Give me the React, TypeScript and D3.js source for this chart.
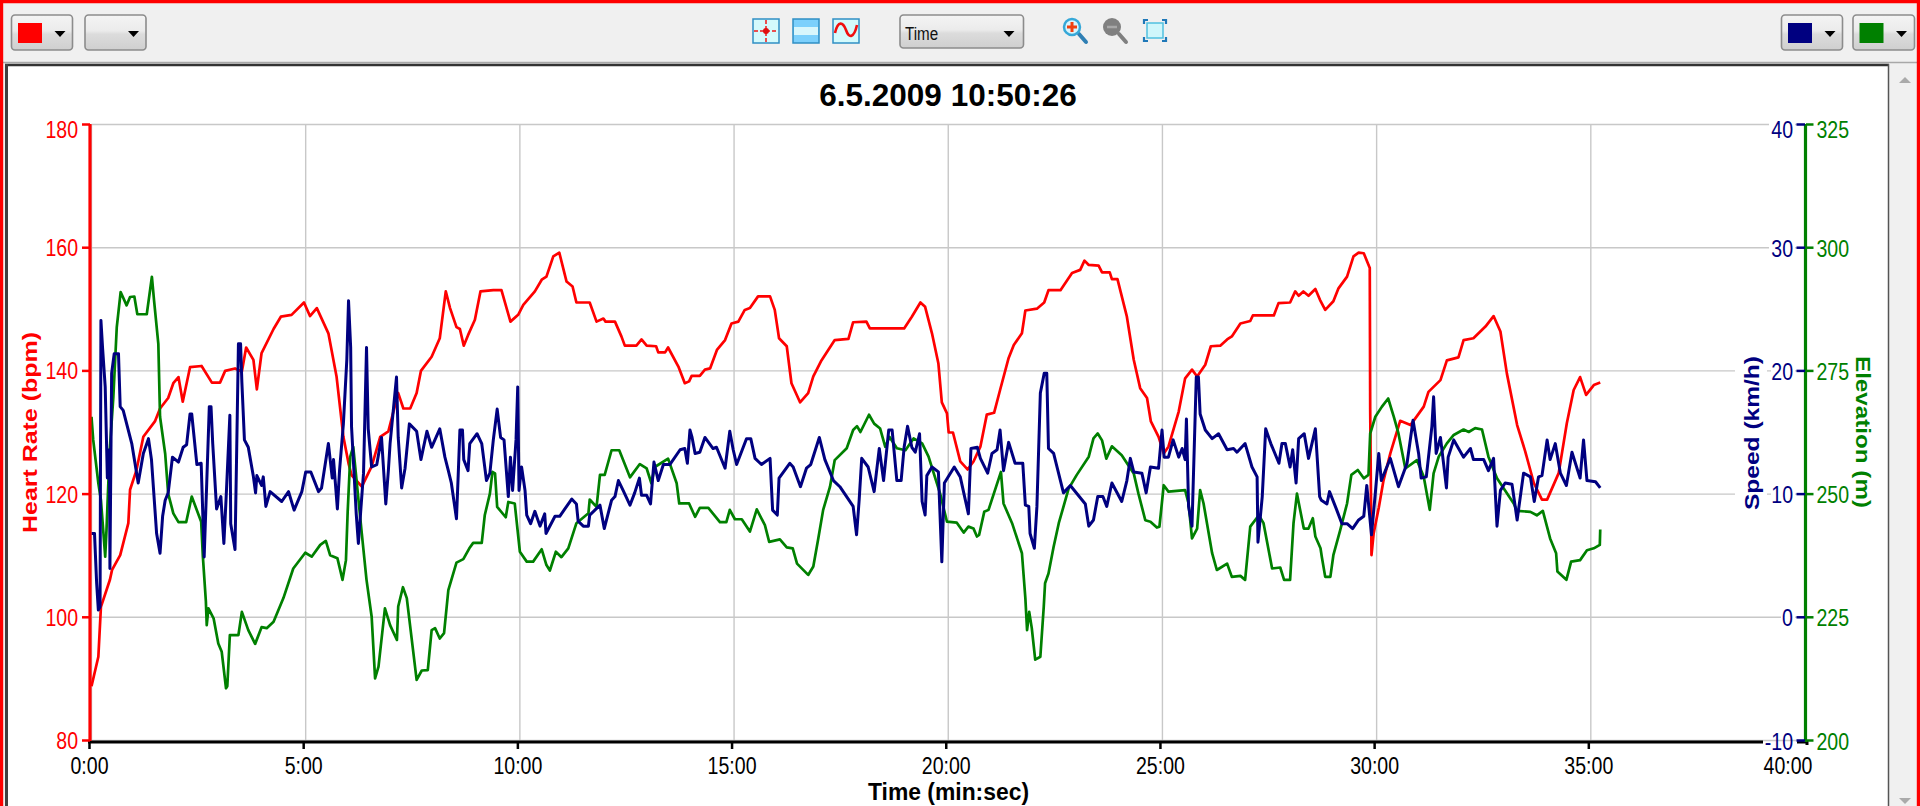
import React from "react";
import * as d3 from "d3";

const xTickMinutes = [0, 5, 10, 15, 20, 25, 30, 35, 40];
const hrTicks = [80, 100, 120, 140, 160, 180];
const speedTicks = [-10, 0, 10, 20, 30, 40];
const elevationTicks = [200, 225, 250, 275, 300, 325];

const hrTime = [0,.16,.22,.43,.48,.67,.86,.9,1.05,1.21,1.48,1.6,1.79,1.91,2.03,2.13,2.3,2.57,2.81,3,3.12,3.35,3.51,3.61,3.78,3.86,3.97,4.25,4.42,4.67,4.96,5.1,5.26,5.53,5.72,5.88,6,6.07,6.31,6.54,6.74,6.93,7.16,7.28,7.44,7.59,7.69,7.94,8.13,8.27,8.37,8.52,8.6,8.69,8.79,8.95,9.08,9.38,9.57,9.78,9.96,10.08,10.35,10.51,10.62,10.78,10.92,11.09,11.23,11.32,11.63,11.79,11.95,12,12.22,12.37,12.45,12.72,12.84,12.96,13.18,13.23,13.39,13.46,13.7,13.85,13.95,14.01,14.2,14.32,14.44,14.6,14.79,14.94,15.1,15.25,15.37,15.56,15.84,15.95,16.05,16.23,16.34,16.54,16.73,16.85,17.04,17.35,17.67,17.78,18.09,18.17,18.41,18.97,19.15,19.35,19.46,19.62,19.77,19.85,19.97,20.01,20.11,20.28,20.45,20.59,20.75,20.9,21.07,21.21,21.41,21.53,21.72,21.8,22.07,22.24,22.34,22.62,22.89,23.08,23.18,23.28,23.51,23.59,23.77,23.82,23.95,24.17,24.33,24.48,24.64,24.73,24.91,25.03,25.14,25.38,25.53,25.69,25.81,26,26.13,26.35,26.51,26.62,26.82,27.05,27.11,27.6,27.71,27.98,28.1,28.18,28.29,28.41,28.57,28.68,28.8,28.99,29.11,29.31,29.46,29.58,29.7,29.84,29.85,29.88,29.93,30.05,30.16,30.32,30.55,30.79,31.1,31.21,31.49,31.64,31.91,32.03,32.26,32.54,32.73,32.89,33.04,33.28,33.47,33.67,33.86,33.98,34.25,34.44,34.6,34.75,34.89,35.07,35.22];
const heartRate = [88.8,93.6,101.7,106.1,107.7,110.1,115.3,120.7,123.9,129.3,131.8,133.9,135.6,138,139,135,140.6,140.8,138.1,138.1,140,140.4,139.9,143.8,141.8,137,142.9,146.8,148.8,149.1,151.1,148.9,150.2,146.1,139.1,129.3,125,123.1,121.2,124.5,129.3,130.2,136.4,133.9,133.9,136.4,140,142.3,145.3,152.9,150.2,147.1,146.8,144.1,145.8,148.3,152.9,153.1,153.1,148,149.1,150.7,152.9,154.8,155.3,158.6,159.2,154.5,153.7,151.1,151.1,148,148.5,148,148,145.6,144.1,144.1,145.1,144.1,144,143,143,143.8,140.7,138,138.3,139.2,139.2,140.2,140.4,143.4,145,147.7,148,149.9,150.2,152.1,152.1,149.9,145.3,144,138,134.9,136.4,139.1,141.7,145,145.2,147.9,148,146.9,146.9,146.9,148.8,151.1,150.4,146.1,141.2,134.9,133.1,130,130,125.3,124,125.3,127.7,132.9,133.2,136.9,142.1,144.2,146.1,149.8,150.1,151.1,153.1,153.1,155.9,156.4,157.9,157.2,157.1,156,156,154.9,154.9,148.8,141.8,137.2,135.6,131.8,129.3,126.6,127.7,133.4,138.8,140.2,139.1,141,144,144.1,145.1,145.6,147.7,148.1,149,149,151,151.1,152.9,152.2,152.9,152.2,153.3,151.5,149.9,151.3,153.4,155.3,158.6,159.2,159.1,156.7,133.7,110.1,113.6,117.8,122.2,126.6,131.9,131.2,134.2,136.6,138.5,141.7,142.2,145,145.3,147.2,148.9,146.4,139.6,131.2,126.9,121.8,119.1,119.1,123.4,131.5,136.9,139,136.1,137.7,138.1];

const speedTime = [0,.07,.12,.16,.2,.22,.26,.32,.37,.42,.43,.47,.53,.63,.67,.74,.94,1.09,1.21,1.33,1.4,1.52,1.6,1.66,1.72,1.79,1.89,2.03,2.14,2.22,2.3,2.34,2.46,2.56,2.63,2.69,2.75,2.79,2.83,2.92,3.02,3.09,3.14,3.23,3.25,3.35,3.39,3.43,3.48,3.51,3.57,3.66,3.78,3.83,3.86,3.97,4.01,4.07,4.17,4.44,4.6,4.73,4.91,5,5.12,5.3,5.37,5.53,5.62,5.65,5.74,5.79,5.88,5.96,6,6.05,6.07,6.18,6.23,6.28,6.35,6.42,6.46,6.54,6.66,6.77,6.87,6.93,6.97,7.12,7.16,7.24,7.32,7.42,7.59,7.69,7.83,7.94,8.13,8.25,8.33,8.4,8.52,8.56,8.6,8.66,8.69,8.79,8.83,9,9.11,9.22,9.3,9.38,9.47,9.55,9.63,9.73,9.78,9.83,9.91,9.95,9.98,10.04,10.12,10.16,10.25,10.35,10.47,10.58,10.61,10.82,10.93,11.21,11.32,11.36,11.48,11.6,11.63,11.87,11.97,12.14,12.22,12.3,12.41,12.57,12.68,12.79,12.84,12.96,13.05,13.13,13.23,13.35,13.5,13.74,13.85,13.91,13.97,14.02,14.09,14.2,14.32,14.51,14.59,14.79,14.9,14.98,15.06,15.29,15.39,15.49,15.64,15.84,15.9,16.01,16.05,16.3,16.38,16.55,16.69,16.79,16.99,17.12,17.32,17.47,17.78,17.86,17.92,17.98,18.13,18.27,18.39,18.49,18.61,18.69,18.8,18.9,18.97,19.05,19.15,19.23,19.33,19.39,19.46,19.5,19.62,19.77,19.85,19.91,20.14,20.28,20.47,20.53,20.68,20.75,20.92,21.02,21.14,21.21,21.29,21.41,21.56,21.74,21.8,21.88,21.91,22.01,22.07,22.15,22.24,22.3,22.34,22.46,22.69,22.85,23.2,23.28,23.39,23.49,23.61,23.7,23.82,24.05,24.17,24.25,24.33,24.52,24.62,24.72,24.91,24.99,25.04,25.14,25.25,25.38,25.46,25.53,25.56,25.61,25.69,25.79,25.84,25.88,26,26.16,26.31,26.51,26.66,26.74,26.93,27.09,27.21,27.23,27.33,27.41,27.53,27.72,27.79,27.87,27.98,28.04,28.12,28.18,28.31,28.41,28.57,28.67,28.71,28.84,28.9,29.07,29.19,29.31,29.44,29.58,29.7,29.77,29.88,29.97,30.05,30.11,30.32,30.51,30.71,30.85,30.98,31.04,31.16,31.29,31.33,31.39,31.49,31.63,31.67,31.8,32.03,32.19,32.26,32.5,32.61,32.73,32.81,32.89,33,33.16,33.28,33.43,33.59,33.68,33.78,33.86,33.98,34.05,34.17,34.29,34.43,34.56,34.75,34.83,34.91,35.11,35.22];
const speed = [6.81,6.81,2.76,.59,.86,24.1,21.8,18.7,11.3,13.6,3.97,19.8,21.4,21.4,17.1,16.8,14.1,10.9,13.3,14.5,12.8,6.8,5.2,8.2,9.5,10.1,13,12.6,13.8,14,16.5,16.5,12.4,12.5,4.9,10.9,17.1,17.1,14.1,8.8,9.8,6,9.5,16.4,7.6,5.5,13.7,22.2,22.2,19.1,14.4,13.8,11.4,10.1,11.5,10.7,11.4,9,10.2,9.4,10.2,8.7,10.2,11.8,11.8,10.2,10.5,14.1,11.3,12.8,8.8,11.9,15.7,20.9,25.7,21.9,15.5,8.4,6,8.4,11.7,21.9,15.3,12.2,12.4,14.6,9.2,11.9,14.1,19.5,14.6,10.5,12.1,15.7,15.1,12.8,15.1,13.8,15.3,13,11.9,10.9,8,11.5,15.2,15.2,12.8,11.9,14.1,14.9,14.1,11.1,11.7,14.4,16.9,14.6,14.4,9.8,13,10.3,14.4,18.7,10.3,12.2,10.3,8.3,7.6,8.6,7.4,8.4,6.8,8.2,8.2,9.6,9.2,7.8,7.4,7.4,8.3,9.1,7.2,9.5,9.8,11.1,10.3,9.1,10.1,11.3,9.9,9.9,9.2,12.6,11.1,12.4,12.4,13.6,13.7,12.5,15.2,14.6,13.3,13.4,14.6,13.7,13.8,12.1,15.1,13.6,12.4,14.5,14.5,12.9,12.4,12.9,8.7,8.3,11.3,12.5,12.2,10.6,12.1,12.4,14.6,12.8,11.1,10.6,9,6.7,9.5,12.9,12.2,10.2,13.7,11.1,15.2,15.2,11.1,11.1,13.8,15.5,13.8,13.4,14.9,9.4,8.3,11.5,12.2,11.8,4.5,10.9,12.2,11.4,8.4,13.7,13.8,12.9,11.7,13.3,13.6,15.2,11.9,14.2,12.5,12.5,9.1,9,6.8,5.6,9,18.2,19.8,19.8,13.7,13.3,10.1,10.7,9.2,7.4,7.9,9.8,9.8,9,10.9,9.4,11.1,12.9,11.8,11.7,10.1,12.2,12.1,15.2,13,13,14.4,13,13.7,12.8,16.1,9,7.4,19.5,19.5,16.5,15.2,14.5,14.9,13.6,13.7,13.4,14.1,12.2,11.4,6.1,9.8,15.3,14.1,12.5,14.1,14.1,12.2,13.6,10.9,14.5,14.9,12.9,15.3,9.8,9.5,9.2,10.2,8.7,7.6,7.6,7.2,7.9,8.2,10.7,6.7,10.1,13.3,11.1,12.9,10.6,12.5,16,13.3,11.3,11.4,15.5,17.9,13.3,14.6,10.5,13,14.4,13,13.7,12.8,12.8,11.9,12.9,7.4,10.3,10.9,10.8,7.9,11.7,11.4,9.4,11.4,11.5,14.4,12.8,14.1,11.7,10.7,13.4,11.3,14.4,11.1,11,10.5];

const elevationTime = [0,.04,.16,.22,.32,.35,.42,.51,.59,.68,.82,.9,1,1.07,1.29,1.41,1.46,1.56,1.6,1.72,1.79,1.91,2.03,2.21,2.34,2.56,2.6,2.67,2.69,2.73,2.85,2.96,3.04,3.14,3.17,3.23,3.43,3.51,3.66,3.82,3.97,4.09,4.25,4.48,4.71,4.99,5.14,5.34,5.47,5.57,5.74,5.86,5.94,5.98,6.04,6.11,6.31,6.42,6.54,6.62,6.7,6.85,6.97,7.13,7.16,7.27,7.36,7.59,7.71,7.85,7.94,8.02,8.13,8.23,8.33,8.52,8.68,8.82,8.91,9.11,9.18,9.3,9.36,9.42,9.47,9.67,9.73,9.88,10,10.16,10.31,10.51,10.62,10.7,10.84,10.97,11.13,11.32,11.6,11.63,11.79,11.87,11.98,12.14,12.32,12.57,12.8,12.96,13.07,13.15,13.46,13.66,13.72,13.95,14.09,14.2,14.4,14.67,14.82,14.9,15.02,15.18,15.37,15.53,15.72,15.82,16.07,16.23,16.37,16.47,16.73,16.85,16.96,17.08,17.24,17.35,17.63,17.78,17.87,17.95,18.15,18.27,18.41,18.53,18.63,18.8,19,19.19,19.39,19.54,19.81,19.97,20.2,20.36,20.47,20.59,20.67,20.72,20.84,20.94,21.23,21.29,21.49,21.72,21.8,21.84,21.89,21.95,22.03,22.15,22.23,22.26,22.34,22.46,22.58,22.81,23,23.28,23.39,23.49,23.59,23.69,23.82,24.05,24.33,24.44,24.6,24.72,24.87,24.93,25.03,25.14,25.53,25.61,25.69,25.81,25.88,25.96,26.16,26.27,26.51,26.62,26.82,26.93,27.05,27.25,27.36,27.56,27.75,27.84,27.98,28.06,28.14,28.3,28.41,28.51,28.57,28.69,28.72,28.8,28.92,28.99,29.15,29.31,29.41,29.56,29.7,29.81,29.85,29.97,30.12,30.27,30.4,30.51,30.67,30.94,31.1,31.24,31.33,31.45,31.64,31.8,32.03,32.15,32.3,32.46,32.61,32.81,33.2,33.28,33.59,33.74,33.88,34.05,34.19,34.22,34.43,34.54,34.75,34.91,35.07,35.21,35.22];
const elevation = [265.7,261,252.2,248.8,237.3,242.7,258.2,269.7,283.9,291,288.3,290,290.1,286.5,286.5,294.1,289.3,280.5,265.7,258.2,250.1,246.1,244.3,244.3,249.5,244.4,237.3,228.2,223.4,226.8,224.8,219.7,218,210.6,211,221.4,221.4,226.1,222.4,219.6,223,222.8,224.1,228.9,234.9,238.1,237.3,239.7,240.5,237.6,237,232.6,236.6,246.4,257.6,259.6,242,232.6,225.1,212.6,215,226.8,223.4,220.4,227.2,231.1,228.9,212.3,214.2,214.3,222.4,222.8,220.7,221.8,230.5,236.1,236.8,239,240.1,240.1,245.7,250.1,254.5,254.2,247.4,245.3,248.4,248.1,238.3,236.3,236.3,238.8,235.6,234.5,238.3,237.2,239,244.1,246.1,248.9,247.4,253.9,253.9,258.9,258.9,253.4,256.1,255.2,252.2,255.5,257.2,252.2,248.1,248.1,245.4,247.2,247.2,244.3,244.3,246.8,244.9,244.9,242.4,246.9,243.7,240.3,240.8,239.2,239,235.9,233.6,235.3,240.7,246.8,251.5,256.9,259.3,263,263.8,262.6,266.1,264.3,263.3,259.6,261.6,259.3,258.9,261.3,260.3,257.6,250.1,244.4,244.2,242.2,243.4,243,241.4,241.7,246.4,246.8,254.5,248.1,244.1,238,228.9,222.4,226.1,222.8,216.4,217,227.2,231.9,233.9,239.3,244.1,251.1,253.9,257.6,261.3,262.3,260.9,257.2,259.7,257.9,254.2,250.1,244.7,244.4,243.2,243.4,251.8,250.5,250.8,248.1,241,243,250.8,248.1,238,234.6,235.9,233.2,233.4,232.6,243.4,245.7,244.1,234.9,235.1,232.6,232.6,244.1,250.1,243,243,245.1,241.4,239,237.3,233.2,233.2,237.6,242.7,248.1,253.9,254.9,253.2,253.9,262.3,265.7,267.7,269.4,265.7,262.3,255.2,256.9,253.5,246.8,254.2,257.6,260.3,262,263.1,262.6,263.4,263.1,257.6,253.2,248.1,246.6,246.4,245.7,246.6,241,238,234.3,232.6,236.3,236.6,238.6,239,239.7,242.8];

const RED = "#ff0000";
const NAVY = "#000080";
const GREEN = "#008000";
const SANS = "'Liberation Sans', Arial, sans-serif";

const x = d3.scaleLinear().domain([0, 40]).range([91.5, 1805]);
const yHr = d3.scaleLinear().domain([80, 180]).range([740.5, 124.5]);
const ySpeed = d3.scaleLinear().domain([-10, 40]).range([740.5, 124.5]);
const yElev = d3.scaleLinear().domain([200, 325]).range([740.5, 124.5]);

function pathOf(ts: number[], vs: number[], y: d3.ScaleLinear<number, number>) {
  return d3.line<number>().x((t) => x(t)).y((_, i) => y(vs[i]))(ts) || "";
}

function Tick({ px, py, fill, anchor = "end", children }: any) {
  return (
    <text
      transform={`translate(${px},${py + 8}) scale(0.85,1)`}
      fontFamily={SANS}
      fontSize={23}
      fill={fill}
      textAnchor={anchor}
    >
      {children}
    </text>
  );
}

function AxisTitle({ cx, cy, rot, len, fill, children }: any) {
  return (
    <text
      transform={`translate(${cx},${cy}) rotate(${rot})`}
      fontFamily={SANS}
      fontWeight="bold"
      fontSize={20}
      fill={fill}
      textAnchor="middle"
      textLength={len}
      lengthAdjust="spacingAndGlyphs"
    >
      {children}
    </text>
  );
}

function Arrow({ cx, cy = 34 }: { cx: number; cy?: number }) {
  return <path d={`M${cx - 5.5},${cy - 3}h11l-5.5,6z`} fill="#000" />;
}

function Button({ x0, x1, y0 = 15, y1 = 50, swatch, arrow }: any) {
  return (
    <g>
      <rect x={x0} y={y0} width={x1 - x0} height={y1 - y0} rx={3.5} fill="url(#btn)" stroke="#8c8c8c" strokeWidth={1.6} />
      {swatch && <rect x={x0 + 6.5} y={23} width={24} height={20} fill={swatch} />}
      <Arrow cx={arrow} />
    </g>
  );
}

export default function App() {
  const labelMasks = [
    [1769, 124, 26],
    [1769, 248, 26],
    [1771, 371, 24],
    [1771, 494, 24],
    [1781, 617, 14],
  ];
  return (
    <svg width={1920} height={806} style={{ position: "absolute", left: 0, top: 0, display: "block" }}>
      <defs>
        <linearGradient id="btn" x1="0" y1="0" x2="0" y2="1">
          <stop offset="0" stopColor="#f4f4f4" />
          <stop offset="0.45" stopColor="#ebebeb" />
          <stop offset="0.55" stopColor="#dcdcdc" />
          <stop offset="1" stopColor="#cfcfcf" />
        </linearGradient>
      </defs>

      {/* window */}
      <rect width={1920} height={806} fill="#f0f0f0" />
      <rect x={5} y={64} width={1884} height={742} fill="#fff" />
      <path d="M0,62.5H1920" stroke="#a8a8a8" strokeWidth={1.5} />
      <path d="M5,65H1889" stroke="#333" strokeWidth={2.5} />
      <path d="M6.5,64V806" stroke="#404040" strokeWidth={3} />
      <path d="M1888.5,64V806" stroke="#555" strokeWidth={1.5} />
      <path d="M1905,77l6,6h-12z" fill="#aaa" />
      <path d="M1905,804l6,-6h-12z" fill="#aaa" />

      {/* toolbar */}
      <Button x0={11.5} x1={72.5} swatch={RED} arrow={60} />
      <Button x0={85} x1={146} arrow={133.5} />
      <Button x0={900} x1={1023.5} y1={48} arrow={1009} />
      <text transform="translate(905,40) scale(0.8,1)" fontFamily={SANS} fontSize={19} fill="#111">Time</text>
      <Button x0={1781.5} x1={1842.5} swatch={NAVY} arrow={1830} />
      <Button x0={1853} x1={1914.5} swatch={GREEN} arrow={1901.5} />

      <g>
        <rect x={753} y={19} width={26} height={24} fill="#d4fafc" stroke="#2f8fc4" strokeWidth={1.5} />
        <path d="M754,31H778M766,20V42" stroke="#f01818" strokeWidth={1.5} strokeDasharray="4 2" />
        <circle cx={766} cy={31} r={3} fill="#e01010" />
        <rect x={793} y={19} width={26} height={24} fill="#7cd0fc" stroke="#2f8fc4" strokeWidth={1.5} />
        <rect x={794} y={27} width={24} height={8} fill="#d8f6fc" />
        <rect x={833} y={19} width={26} height={24} fill="#d4fafc" stroke="#2f8fc4" strokeWidth={1.5} />
        <path d="M835,33C838,20 843,22 846,30C849,39 854,38 857,25" fill="none" stroke="#f01010" strokeWidth={2.6} />
        <path d="M1079,34l7,8" stroke="#2f7fb4" strokeWidth={4} strokeLinecap="round" />
        <circle cx={1072} cy={27} r={8} fill="#d8f4fc" stroke="#36a8d8" strokeWidth={2.5} />
        <path d="M1067,27h10M1072,22v10" stroke="#f04010" strokeWidth={3} />
        <path d="M1119,34l7,8" stroke="#808080" strokeWidth={4} strokeLinecap="round" />
        <circle cx={1112} cy={27} r={9} fill="#808080" />
        <path d="M1107,27h10" stroke="#a8a8a8" strokeWidth={2.5} />
        <rect x={1147} y={23} width={16} height={15} fill="#cff6fb" stroke="#50c0e0" strokeWidth={1.5} />
        <path d="M1144,24v-4h4M1162,20h4v4M1166,37v4h-4M1148,41h-4v-4" fill="none" stroke="#1f78b8" strokeWidth={2.2} />
      </g>

      {/* title */}
      <text x={948} y={106} textAnchor="middle" fontFamily={SANS} fontWeight="bold" fontSize={31.5} fill="#000">
        6.5.2009 10:50:26
      </text>

      {/* grid */}
      <g stroke="#c8c8c8" strokeWidth={1.4}>
        {xTickMinutes.map((m) => (
          <line key={m} x1={x(m)} x2={x(m)} y1={yHr(180)} y2={yHr(80)} />
        ))}
        {hrTicks.map((v) => (
          <line key={v} x1={x(0)} x2={x(40)} y1={yHr(v)} y2={yHr(v)} />
        ))}
      </g>
      {labelMasks.map(([mx, my, w]) => (
        <rect key={my} x={mx} y={my - 4} width={w} height={8} fill="#fff" />
      ))}
      <rect x={1735} y={350} width={32} height={165} fill="#fff" />

      {/* series */}
      <g fill="none" strokeLinejoin="round">
        <path d={pathOf(hrTime, heartRate, yHr)} stroke={RED} strokeWidth={2.7} />
        <path d={pathOf(elevationTime, elevation, yElev)} stroke={GREEN} strokeWidth={2.7} />
        <path d={pathOf(speedTime, speed, ySpeed)} stroke={NAVY} strokeWidth={3} />
      </g>

      {/* x axis */}
      <path d={`M88,742H1763`} stroke="#000" strokeWidth={3} />
      <path d="M1797,742H1807V745" stroke="#000" strokeWidth={3} fill="none" />
      {xTickMinutes.map((m) => (
        <g key={m}>
          {m < 40 && <line x1={x(m) - 2} x2={x(m) - 2} y1={742} y2={749} stroke="#000" strokeWidth={2.5} />}
          <Tick px={m === 40 ? 1788 : x(m) - 2} py={766} fill="#000" anchor="middle">{`${m}:00`}</Tick>
        </g>
      ))}

      {/* left axis */}
      <path d="M90,124V741" stroke={RED} strokeWidth={3.2} />
      {hrTicks.map((v) => (
        <g key={v}>
          <line x1={82} x2={90} y1={yHr(v)} y2={yHr(v)} stroke={RED} strokeWidth={2.5} />
          <Tick px={78} py={v === 180 ? 130 : yHr(v) + 0.5} fill={RED}>{v}</Tick>
        </g>
      ))}

      {/* right axes */}
      <path d="M1805.5,124V742" stroke={GREEN} strokeWidth={3.2} />
      {speedTicks.map((v) => (
        <g key={v}>
          <line x1={1796.5} x2={1805} y1={ySpeed(v)} y2={ySpeed(v)} stroke={NAVY} strokeWidth={2.5} />
          <Tick px={1793} py={v === 40 ? 130 : ySpeed(v) + 1} fill={NAVY}>{v}</Tick>
        </g>
      ))}
      {elevationTicks.map((v) => (
        <g key={v}>
          <line x1={1806} x2={1813.5} y1={yElev(v)} y2={yElev(v)} stroke={GREEN} strokeWidth={2.5} />
          <Tick px={1816.5} py={v === 325 ? 130 : yElev(v) + 1} fill={GREEN} anchor="start">{v}</Tick>
        </g>
      ))}

      {/* axis titles */}
      <AxisTitle cx={37} cy={432.5} rot={-90} len={201} fill={RED}>Heart Rate (bpm)</AxisTitle>
      <AxisTitle cx={1759} cy={433} rot={-90} len={154} fill={NAVY}>Speed (km/h)</AxisTitle>
      <AxisTitle cx={1856} cy={432} rot={90} len={152} fill={GREEN}>Elevation (m)</AxisTitle>
      <text x={948.5} y={800} textAnchor="middle" fontFamily={SANS} fontWeight="bold" fontSize={23} textLength={161} lengthAdjust="spacingAndGlyphs" fill="#000">
        Time (min:sec)
      </text>

      {/* red frame */}
      <path d="M1.5,806V1.5H1918.5V806" fill="none" stroke={RED} strokeWidth={3.4} />
    </svg>
  );
}
